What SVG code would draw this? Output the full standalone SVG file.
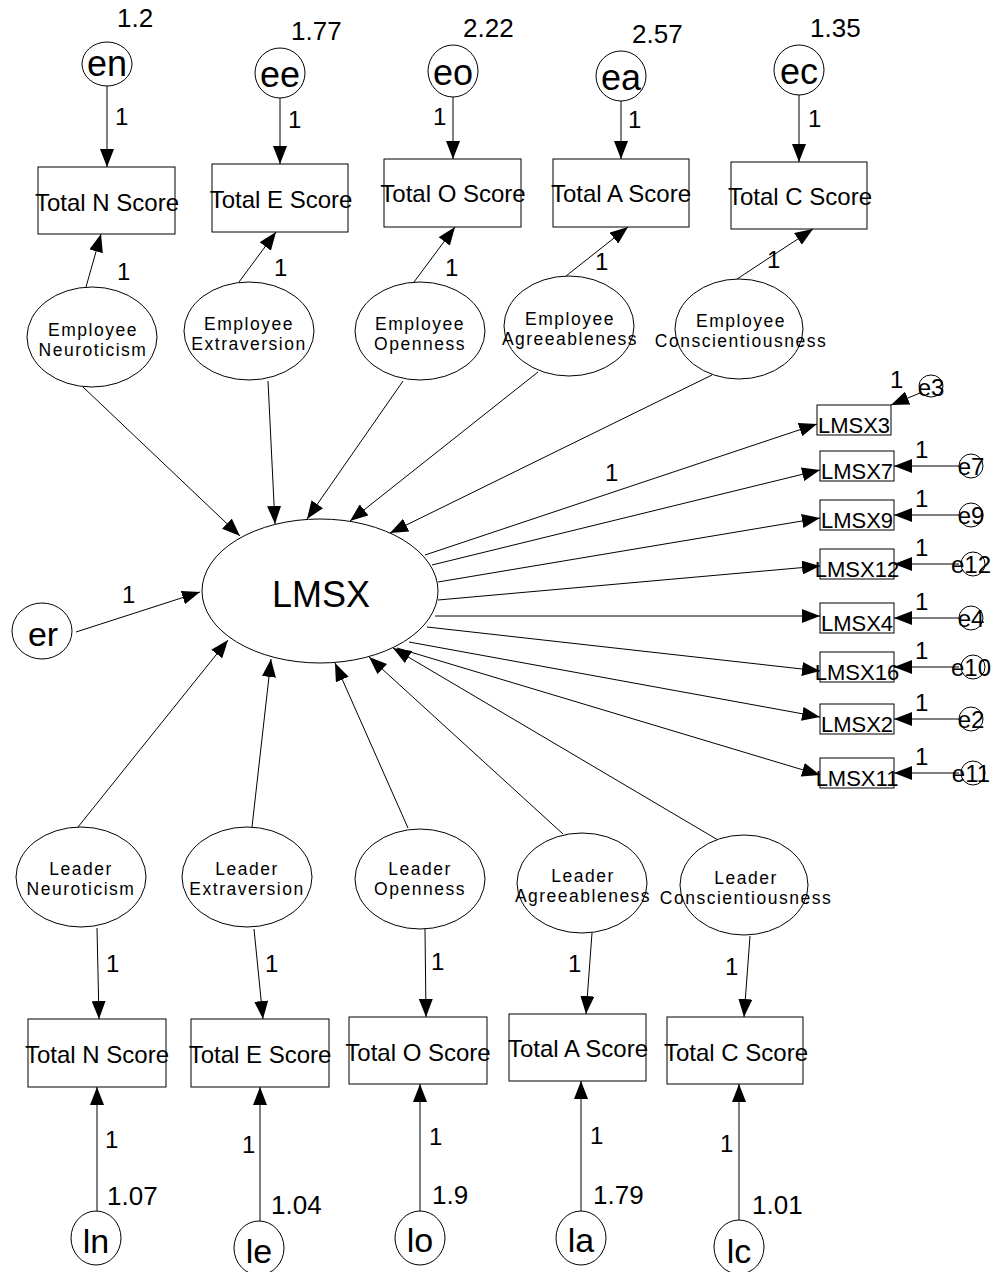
<svg xmlns="http://www.w3.org/2000/svg" width="992" height="1272" viewBox="0 0 992 1272">
<style>
.bx{fill:#fff;stroke:#000;stroke-width:1}
.lv{fill:#fff;stroke:#000;stroke-width:1}
.c{fill:none;stroke:#000;stroke-width:1;marker-end:url(#ah)}
text{font-family:"Liberation Sans",Arial,sans-serif;fill:#000}
.m{text-anchor:middle}
.s24{font-size:24px}
.s26{font-size:26px}
.s22{font-size:22px}
.s20{font-size:17.5px;letter-spacing:1.5px}
.s34{font-size:34px}
.s36{font-size:36px}
</style>
<defs>
<marker id="ah" markerUnits="userSpaceOnUse" markerWidth="18" markerHeight="14" refX="18" refY="7" orient="auto">
<path d="M0,0 L18,7 L0,14 z" fill="#000"/>
</marker>
</defs>
<rect width="992" height="1272" fill="#fff"/>

<g id="connectors">
<line class="c" x1="107" y1="86" x2="107" y2="167"/>
<line class="c" x1="280" y1="98" x2="280" y2="164"/>
<line class="c" x1="453" y1="97" x2="453" y2="159"/>
<line class="c" x1="621" y1="101" x2="621" y2="159"/>
<line class="c" x1="799" y1="95" x2="799" y2="162"/>
<line class="c" x1="86" y1="287" x2="101" y2="234"/>
<line class="c" x1="239" y1="282" x2="276" y2="232"/>
<line class="c" x1="414" y1="282" x2="455" y2="227"/>
<line class="c" x1="566" y1="276" x2="628" y2="227"/>
<line class="c" x1="737" y1="279" x2="813" y2="229"/>
<line class="c" x1="83" y1="387" x2="240" y2="536"/>
<line class="c" x1="268" y1="381" x2="275" y2="524"/>
<line class="c" x1="403" y1="381" x2="307" y2="519"/>
<line class="c" x1="538" y1="372" x2="350" y2="521"/>
<line class="c" x1="712" y1="375" x2="390" y2="533"/>
<line class="c" x1="76" y1="632" x2="200" y2="592"/>
<line class="c" x1="425" y1="555" x2="817" y2="424"/>
<line class="c" x1="432" y1="565" x2="820" y2="470"/>
<line class="c" x1="438" y1="582" x2="820" y2="518"/>
<line class="c" x1="438" y1="600" x2="820" y2="566"/>
<line class="c" x1="435" y1="616" x2="820" y2="616"/>
<line class="c" x1="427" y1="627" x2="820" y2="671"/>
<line class="c" x1="409" y1="642" x2="820" y2="717"/>
<line class="c" x1="397" y1="648" x2="820" y2="775"/>
<line class="c" x1="920" y1="393" x2="891" y2="405"/>
<line class="c" x1="959" y1="466" x2="894" y2="466"/>
<line class="c" x1="959" y1="515" x2="894" y2="515"/>
<line class="c" x1="959" y1="564" x2="894" y2="564"/>
<line class="c" x1="959" y1="618" x2="894" y2="618"/>
<line class="c" x1="959" y1="667" x2="894" y2="667"/>
<line class="c" x1="959" y1="719" x2="894" y2="719"/>
<line class="c" x1="959" y1="773" x2="894" y2="773"/>
<line class="c" x1="78" y1="827" x2="228" y2="640"/>
<line class="c" x1="252" y1="827" x2="271" y2="659"/>
<line class="c" x1="408" y1="828" x2="335" y2="663"/>
<line class="c" x1="563" y1="834" x2="369" y2="657"/>
<line class="c" x1="718" y1="840" x2="393" y2="648"/>
<line class="c" x1="97" y1="928" x2="99" y2="1019"/>
<line class="c" x1="254" y1="929" x2="263" y2="1019"/>
<line class="c" x1="425" y1="929" x2="426" y2="1017"/>
<line class="c" x1="592" y1="933" x2="586" y2="1014"/>
<line class="c" x1="750" y1="936" x2="744" y2="1017"/>
<line class="c" x1="97" y1="1211" x2="97" y2="1087"/>
<line class="c" x1="260" y1="1221" x2="260" y2="1087"/>
<line class="c" x1="420" y1="1211" x2="420" y2="1084"/>
<line class="c" x1="581" y1="1211" x2="581" y2="1081"/>
<line class="c" x1="739" y1="1220" x2="739" y2="1084"/>
</g>

<g id="path-labels">
<text class="s24" x="115" y="125">1</text>
<text class="s24" x="288" y="128">1</text>
<text class="s24" x="433" y="125">1</text>
<text class="s24" x="628" y="128">1</text>
<text class="s24" x="808" y="127">1</text>
<text class="s24" x="117" y="280">1</text>
<text class="s24" x="274" y="276">1</text>
<text class="s24" x="445" y="276">1</text>
<text class="s24" x="595" y="270">1</text>
<text class="s24" x="767" y="268">1</text>
<text class="s24" x="122" y="603">1</text>
<text class="s24" x="605" y="481">1</text>
<text class="s24" x="890" y="388">1</text>
<text class="s24" x="915" y="458">1</text>
<text class="s24" x="915" y="507">1</text>
<text class="s24" x="915" y="556">1</text>
<text class="s24" x="915" y="610">1</text>
<text class="s24" x="915" y="659">1</text>
<text class="s24" x="915" y="711">1</text>
<text class="s24" x="915" y="765">1</text>
<text class="s24" x="106" y="972">1</text>
<text class="s24" x="265" y="972">1</text>
<text class="s24" x="431" y="970">1</text>
<text class="s24" x="568" y="972">1</text>
<text class="s24" x="725" y="975">1</text>
<text class="s24" x="105" y="1148">1</text>
<text class="s24" x="242" y="1153">1</text>
<text class="s24" x="429" y="1145">1</text>
<text class="s24" x="590" y="1144">1</text>
<text class="s24" x="720" y="1152">1</text>
</g>

<g id="variances">
<text class="s26" x="117" y="27">1.2</text>
<text class="s26" x="291" y="40">1.77</text>
<text class="s26" x="463" y="37">2.22</text>
<text class="s26" x="632" y="43">2.57</text>
<text class="s26" x="810" y="37">1.35</text>
<text class="s26" x="107" y="1205">1.07</text>
<text class="s26" x="271" y="1214">1.04</text>
<text class="s26" x="432" y="1204">1.9</text>
<text class="s26" x="593" y="1204">1.79</text>
<text class="s26" x="752" y="1214">1.01</text>
</g>

<g id="en"><ellipse class="lv" cx="107" cy="64" rx="25" ry="22"/><text class="s36 m" x="107" y="76">en</text></g>
<g id="ee"><ellipse class="lv" cx="280" cy="73" rx="25" ry="25"/><text class="s36 m" x="280" y="87">ee</text></g>
<g id="eo"><ellipse class="lv" cx="453" cy="71" rx="25" ry="26"/><text class="s36 m" x="453" y="85">eo</text></g>
<g id="ea"><ellipse class="lv" cx="621" cy="76" rx="25" ry="25"/><text class="s36 m" x="621" y="90">ea</text></g>
<g id="ec"><ellipse class="lv" cx="799" cy="70" rx="25" ry="25"/><text class="s36 m" x="799" y="84">ec</text></g>

<g id="emp-n-score"><rect class="bx" x="38" y="167" width="137" height="67"/><text class="s24 m" x="107" y="211">Total N Score</text></g>
<g id="emp-e-score"><rect class="bx" x="212" y="164" width="136" height="68"/><text class="s24 m" x="281" y="208">Total E Score</text></g>
<g id="emp-o-score"><rect class="bx" x="384" y="159" width="137" height="68"/><text class="s24 m" x="453" y="202">Total O Score</text></g>
<g id="emp-a-score"><rect class="bx" x="553" y="159" width="136" height="68"/><text class="s24 m" x="621" y="202">Total A Score</text></g>
<g id="emp-c-score"><rect class="bx" x="731" y="162" width="136" height="67"/><text class="s24 m" x="800" y="205">Total C Score</text></g>

<g id="emp-neuroticism"><ellipse class="lv" cx="92" cy="337" rx="65" ry="50"/><text class="s20 m" x="93" y="336">Employee</text><text class="s20 m" x="93" y="356">Neuroticism</text></g>
<g id="emp-extraversion"><ellipse class="lv" cx="249" cy="331" rx="65" ry="49"/><text class="s20 m" x="249" y="330">Employee</text><text class="s20 m" x="249" y="350">Extraversion</text></g>
<g id="emp-openness"><ellipse class="lv" cx="420" cy="331" rx="65" ry="49"/><text class="s20 m" x="420" y="330">Employee</text><text class="s20 m" x="420" y="350">Openness</text></g>
<g id="emp-agreeableness"><ellipse class="lv" cx="569" cy="326" rx="65" ry="50"/><text class="s20 m" x="570" y="325">Employee</text><text class="s20 m" x="570" y="345">Agreeableness</text></g>
<g id="emp-conscientiousness"><ellipse class="lv" cx="739" cy="329" rx="64" ry="50"/><text class="s20 m" x="741" y="327">Employee</text><text class="s20 m" x="741" y="347">Conscientiousness</text></g>

<g id="LMSX"><ellipse class="lv" cx="320" cy="591" rx="118" ry="72"/><text class="s36 m" x="321" y="607">LMSX</text></g>
<g id="er"><ellipse class="lv" cx="42" cy="631" rx="30" ry="28"/><text class="s34 m" x="43" y="646">er</text></g>

<g id="lmsx3"><rect class="bx" x="817" y="405" width="74" height="30"/><text class="s22 m" x="854" y="433">LMSX3</text></g>
<g id="lmsx7"><rect class="bx" x="820" y="451" width="74" height="30"/><text class="s22 m" x="857" y="479">LMSX7</text></g>
<g id="lmsx9"><rect class="bx" x="820" y="500" width="74" height="30"/><text class="s22 m" x="857" y="528">LMSX9</text></g>
<g id="lmsx12"><rect class="bx" x="820" y="549" width="74" height="30"/><text class="s22 m" x="857" y="577">LMSX12</text></g>
<g id="lmsx4"><rect class="bx" x="820" y="603" width="74" height="30"/><text class="s22 m" x="857" y="631">LMSX4</text></g>
<g id="lmsx16"><rect class="bx" x="820" y="652" width="74" height="30"/><text class="s22 m" x="857" y="680">LMSX16</text></g>
<g id="lmsx2"><rect class="bx" x="820" y="704" width="74" height="30"/><text class="s22 m" x="857" y="732">LMSX2</text></g>
<g id="lmsx11"><rect class="bx" x="820" y="758" width="74" height="30"/><text class="s22 m" x="857" y="786">LMSX11</text></g>

<g id="e3"><ellipse class="lv" cx="931" cy="386" rx="12" ry="11"/><text class="s24 m" x="931" y="396">e3</text></g>
<g id="e7"><circle class="lv" cx="971" cy="466" r="12"/><text class="s24 m" x="971" y="475">e7</text></g>
<g id="e9"><circle class="lv" cx="971" cy="515" r="12"/><text class="s24 m" x="971" y="524">e9</text></g>
<g id="e12"><circle class="lv" cx="973" cy="564" r="12"/><text class="s24 m" x="971" y="573">e12</text></g>
<g id="e4"><circle class="lv" cx="971" cy="618" r="12"/><text class="s24 m" x="971" y="627">e4</text></g>
<g id="e10"><circle class="lv" cx="973" cy="667" r="12"/><text class="s24 m" x="971" y="676">e10</text></g>
<g id="e2"><circle class="lv" cx="971" cy="719" r="12"/><text class="s24 m" x="971" y="728">e2</text></g>
<g id="e11"><circle class="lv" cx="973" cy="773" r="12"/><text class="s24 m" x="971" y="782">e11</text></g>

<g id="lead-neuroticism"><ellipse class="lv" cx="81" cy="877" rx="65" ry="50"/><text class="s20 m" x="81" y="875">Leader</text><text class="s20 m" x="81" y="895">Neuroticism</text></g>
<g id="lead-extraversion"><ellipse class="lv" cx="247" cy="877" rx="65" ry="50"/><text class="s20 m" x="247" y="875">Leader</text><text class="s20 m" x="247" y="895">Extraversion</text></g>
<g id="lead-openness"><ellipse class="lv" cx="420" cy="879" rx="65" ry="50"/><text class="s20 m" x="420" y="875">Leader</text><text class="s20 m" x="420" y="895">Openness</text></g>
<g id="lead-agreeableness"><ellipse class="lv" cx="582" cy="883" rx="65" ry="50"/><text class="s20 m" x="583" y="882">Leader</text><text class="s20 m" x="583" y="902">Agreeableness</text></g>
<g id="lead-conscientiousness"><ellipse class="lv" cx="744" cy="885" rx="64" ry="50"/><text class="s20 m" x="746" y="884">Leader</text><text class="s20 m" x="746" y="904">Conscientiousness</text></g>

<g id="lead-n-score"><rect class="bx" x="28" y="1019" width="138" height="68"/><text class="s24 m" x="97" y="1063">Total N Score</text></g>
<g id="lead-e-score"><rect class="bx" x="191" y="1019" width="138" height="68"/><text class="s24 m" x="260" y="1063">Total E Score</text></g>
<g id="lead-o-score"><rect class="bx" x="349" y="1017" width="138" height="67"/><text class="s24 m" x="418" y="1061">Total O Score</text></g>
<g id="lead-a-score"><rect class="bx" x="509" y="1014" width="137" height="67"/><text class="s24 m" x="578" y="1057">Total A Score</text></g>
<g id="lead-c-score"><rect class="bx" x="667" y="1017" width="136" height="67"/><text class="s24 m" x="736" y="1061">Total C Score</text></g>

<g id="ln"><ellipse class="lv" cx="96" cy="1238" rx="25" ry="27"/><text class="s34 m" x="96" y="1253">ln</text></g>
<g id="le"><ellipse class="lv" cx="259" cy="1248" rx="25" ry="27"/><text class="s34 m" x="259" y="1263">le</text></g>
<g id="lo"><ellipse class="lv" cx="420" cy="1238" rx="25" ry="27"/><text class="s34 m" x="420" y="1252">lo</text></g>
<g id="la"><ellipse class="lv" cx="581" cy="1238" rx="25" ry="27"/><text class="s34 m" x="581" y="1252">la</text></g>
<g id="lc"><ellipse class="lv" cx="739" cy="1247" rx="25" ry="27"/><text class="s34 m" x="739" y="1263">lc</text></g>
</svg>
